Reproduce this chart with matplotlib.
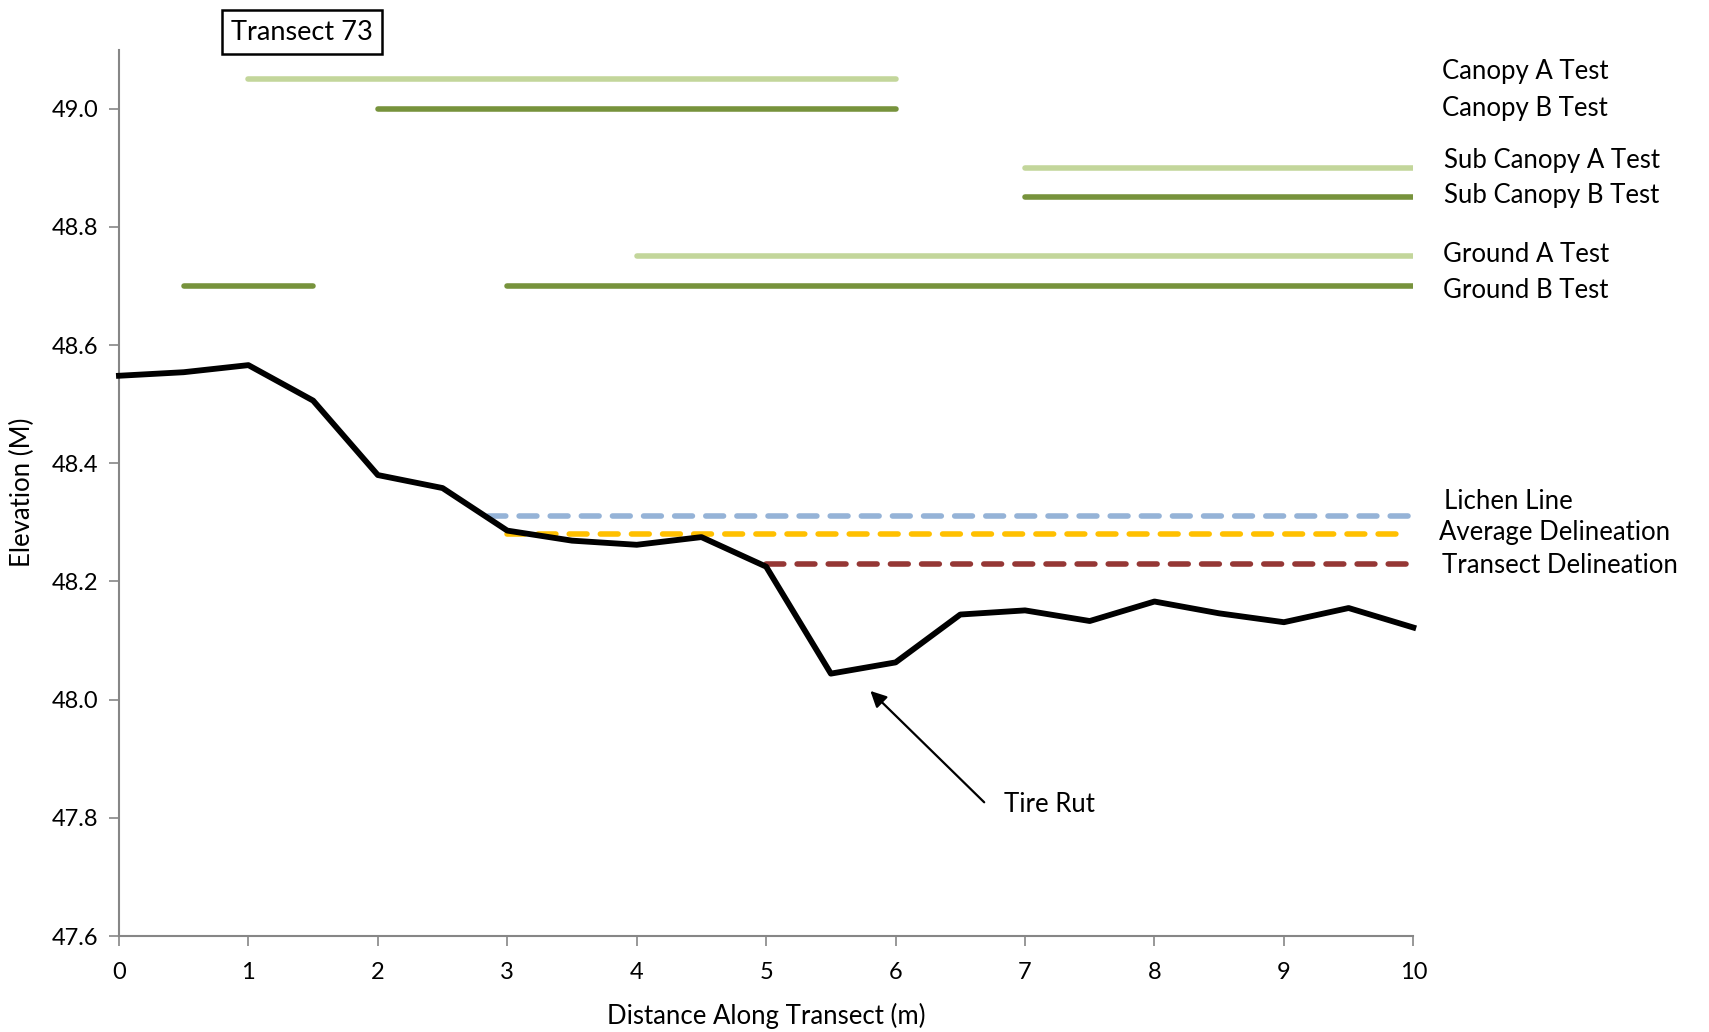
import matplotlib.pyplot as plt
import numpy as np

plt.rcParams['font.family'] = ['Lato', 'DejaVu Sans']

# ground profile
dist = [0, 0.5, 1, 1.5, 2, 2.5, 3, 3.5, 4, 4.5, 5, 5.5, 6, 6.5, 7, 7.5, 8, 8.5, 9, 9.5, 10]
elev = [48.548, 48.554, 48.566, 48.506, 48.380, 48.358, 48.286, 48.269, 48.262, 48.275,
        48.225, 48.044, 48.063, 48.144, 48.151, 48.133, 48.166, 48.146, 48.131, 48.155, 48.122]

# vegetation test segments
veg_names = ["Canopy A Test", "Canopy B Test", "Sub Canopy A Test", "Sub Canopy B Test",
             "Ground A Test", "Ground B Test"]
veg_levels = [49.05, 49.0, 48.9, 48.85, 48.75, 48.7]
veg_spans = [[(1, 6)], [(2, 6)], [(7, 10)], [(7, 10)], [(4, 10)], [(0.5, 1.5), (3, 10)]]
veg_shade = ["light", "dark", "light", "dark", "light", "dark"]

# delineation lines
delin_names = ["Lichen Line", "Average Delineation", "Transect Delineation"]
delin_levels = [48.31, 48.28, 48.23]
delin_start = [2.85, 3.0, 5.0]
delin_end = [10, 9.95, 10]

light_green = "#C3D69B"
dark_green = "#77933C"
delin_colors = ["#95B3D7", "#FFC000", "#953735"]

FS = 18.5

fig = plt.figure(figsize=(17.09, 10.32), dpi=100)
ax = fig.add_axes([0.0696, 0.093, 0.7574, 0.859])

for name, lvl, spans, shade in zip(veg_names, veg_levels, veg_spans, veg_shade):
    col = light_green if shade == "light" else dark_green
    for s, e in spans:
        ax.plot([s, e], [lvl, lvl], color=col, lw=4, solid_capstyle='round', zorder=2)

label_dy = [0.013, 0.001, 0.0125, 0.0025, 0.004, -0.007]
label_x = [10.22, 10.22, 10.24, 10.24, 10.23, 10.23]
for name, lvl, dy, xx in zip(veg_names, veg_levels, label_dy, label_x):
    ax.text(xx, lvl + dy, name, fontsize=FS, va='center', ha='left', clip_on=False)

for name, lvl, s, e, col in zip(delin_names, delin_levels, delin_start, delin_end, delin_colors):
    ax.plot([s, e], [lvl, lvl], color=col, lw=4, linestyle=(0, (3.2, 2.4)),
            dash_capstyle='round', zorder=2)

delin_dy = [0.0245, 0.0025, -0.003]
delin_x = [10.24, 10.2, 10.22]
for name, lvl, dy, xx in zip(delin_names, delin_levels, delin_dy, delin_x):
    ax.text(xx, lvl + dy, name, fontsize=FS, va='center', ha='left', clip_on=False)

ax.plot(dist, elev, color='black', lw=4.2, zorder=3, clip_on=False)

ax.annotate("", xy=(5.79, 48.018), xytext=(6.70, 47.823),
            arrowprops=dict(arrowstyle='-|>', color='black', lw=1.6, mutation_scale=24))
ax.text(6.84, 47.823, "Tire Rut", fontsize=FS, va='center', ha='left')

ax.set_xlim(0, 10)
ax.set_ylim(47.6, 49.1)
ax.set_xticks(np.arange(0, 11, 1))
yt = np.arange(47.6, 49.01, 0.2)
ax.set_yticks(yt)
ax.set_yticklabels([f"{v:.1f}" for v in yt])
ax.tick_params(axis='both', direction='out', length=7, width=1.2, color='#868686',
               labelsize=17)
ax.tick_params(axis='x', pad=12)
ax.tick_params(axis='y', pad=8)
for side in ['top', 'right']:
    ax.spines[side].set_visible(False)
for side in ['left', 'bottom']:
    ax.spines[side].set_color('#868686')
    ax.spines[side].set_linewidth(1.5)

ax.set_xlabel("Distance Along Transect (m)", fontsize=FS, labelpad=14)
ax.set_ylabel("Elevation (M)", fontsize=FS, labelpad=12)

fig.text(302 / 1709, 1 - 32 / 1032, "Transect 73", fontsize=19.5, ha='center', va='center',
         bbox=dict(boxstyle='square,pad=0.35', facecolor='white', edgecolor='black', lw=1.8))

fig.savefig("out.png", dpi=100)
